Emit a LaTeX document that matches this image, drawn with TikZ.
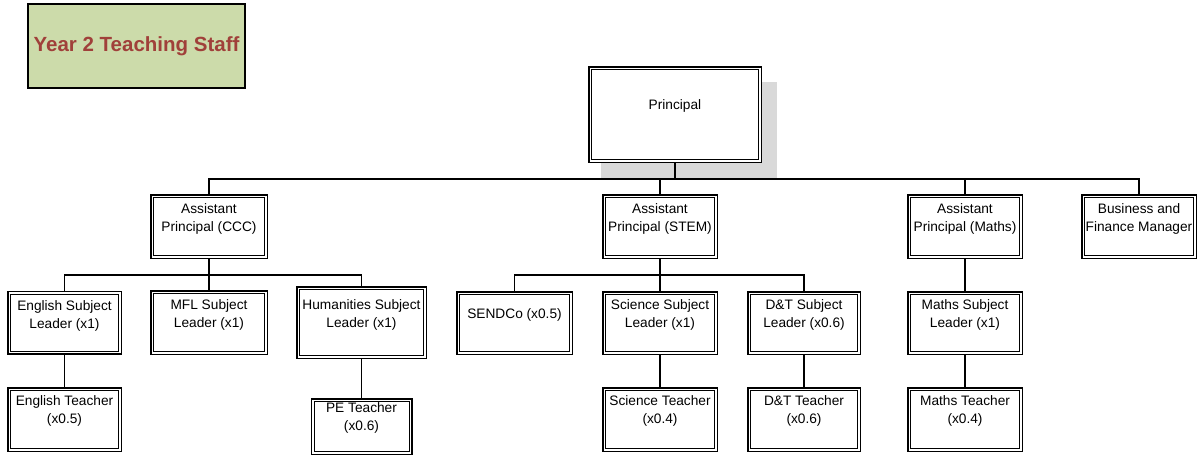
\documentclass[tikz,border=0pt]{standalone}
\usepackage{fontspec}
\setmainfont{Liberation Sans}
\definecolor{titlefill}{HTML}{CCDBAA}
\definecolor{titletext}{HTML}{A0403A}
\definecolor{shadowgray}{HTML}{D9D9D9}
\newcommand\bx[4]{\parbox[c][\dimexpr#2pt+1.9pt\relax][t]{\dimexpr#1pt+1.9pt\relax}{\centering\vspace*{\dimexpr#3pt+0.95pt\relax}\strut #4}}
\tikzset{
  box/.style={draw=black, line width=1.5pt,
    fill=white, inner sep=0pt, outer sep=0.75pt,
    font=\fontsize{13.7}{18}\selectfont,
    path picture={\draw[black, line width=0.9pt]
      ([shift={(2.7pt,-2.7pt)}]path picture bounding box.north west) rectangle
      ([shift={(-2.7pt,2.7pt)}]path picture bounding box.south east);}},
  conn/.style={draw=black, line width=1.3pt},
  titlebox/.style={draw=black, line width=2pt, fill=titlefill, inner sep=0pt,
    minimum width=217pt, minimum height=84pt,
    font=\fontsize{20.5}{24}\selectfont\bfseries, text=titletext}
}
\begin{document}
\begin{tikzpicture}[x=1pt,y=-1pt]
\useasboundingbox (0,0) rectangle (1198,455);
% title
\node[titlebox] (title) at (136.5,46) {Year 2 Teaching Staff};
% shadow of principal
\fill[shadowgray] (601,82) rectangle (777,178);
% boxes
\node[box] (prin) at (675,114.5) {\bx{170.6}{93.6}{29.4}{Principal}};
\node[box] (ccc) at (209,226.5) {\bx{114.6}{61.6}{5.4}{Assistant\\Principal (CCC)}};
\node[box] (stem) at (660,226.5) {\bx{112.6}{61.6}{5.4}{Assistant\\Principal (STEM)}};
\node[box] (maths) at (965,226.5) {\bx{112.6}{61.6}{5.4}{Assistant\\Principal (Maths)}};
\node[box] (biz) at (1139,226.5) {\bx{112.6}{61.6}{5.4}{Business and\\Finance Manager}};
\node[box] (eng) at (64.5,322.5) {\bx{111.6}{60.6}{5.4}{English Subject\\Leader (x1)}};
\node[box] (mfl) at (209,322.5) {\bx{114.6}{61.6}{5.4}{MFL Subject\\Leader (x1)}};
\node[box] (hum) at (361.5,322.5) {\bx{127.6}{69.6}{9.4}{Humanities Subject\\Leader (x1)}};
\node[box] (send) at (514.5,323) {\bx{113.6}{60.6}{13.4}{SENDCo (x0.5)}};
\node[box] (sci) at (660,323) {\bx{112.6}{60.6}{4.4}{Science Subject\\Leader (x1)}};
\node[box] (dt) at (804,323) {\bx{110.6}{60.6}{4.4}{D\&T Subject\\Leader (x0.6)}};
\node[box] (msl) at (965,323) {\bx{112.6}{60.6}{4.4}{Maths Subject\\Leader (x1)}};
\node[box] (engt) at (64.5,419.5) {\bx{111.6}{61.6}{4.4}{English Teacher\\(x0.5)}};
\node[box] (pe) at (361.5,426.5) {\bx{98.6}{53.6}{0.4}{PE Teacher\\(x0.6)}};
\node[box] (scit) at (660,419.5) {\bx{112.6}{61.6}{4.4}{Science Teacher\\(x0.4)}};
\node[box] (dtt) at (804,419.5) {\bx{110.6}{61.6}{4.4}{D\&T Teacher\\(x0.6)}};
\node[box] (mt) at (965,419.5) {\bx{112.6}{61.6}{4.4}{Maths Teacher\\(x0.4)}};
% bus coordinates
\coordinate (bus1) at (675,179);
\coordinate (busc) at (209,275);
\coordinate (buss) at (660,275);
% connectors
\draw[conn] (prin.south) -- (bus1);
\draw[conn] (ccc.north) |- (bus1) -| (biz.north);
\draw[conn] (stem.north) -- (stem.north |- bus1);
\draw[conn] (maths.north) -- (maths.north |- bus1);
\draw[conn] (ccc.south) -- (busc);
\draw[conn] (eng.north) |- (busc) -| (hum.north);
\draw[conn] (mfl.north) -- (busc);
\draw[conn] (stem.south) -- (buss);
\draw[conn] (send.north) |- (buss) -| (dt.north);
\draw[conn] (sci.north) -- (buss);
\draw[conn] (maths.south) -- (msl.north);
\draw[conn] (eng.south) -- (engt.north);
\draw[conn] (hum.south) -- (pe.north);
\draw[conn] (sci.south) -- (scit.north);
\draw[conn] (dt.south) -- (dtt.north);
\draw[conn] (msl.south) -- (mt.north);
\end{tikzpicture}
\end{document}
